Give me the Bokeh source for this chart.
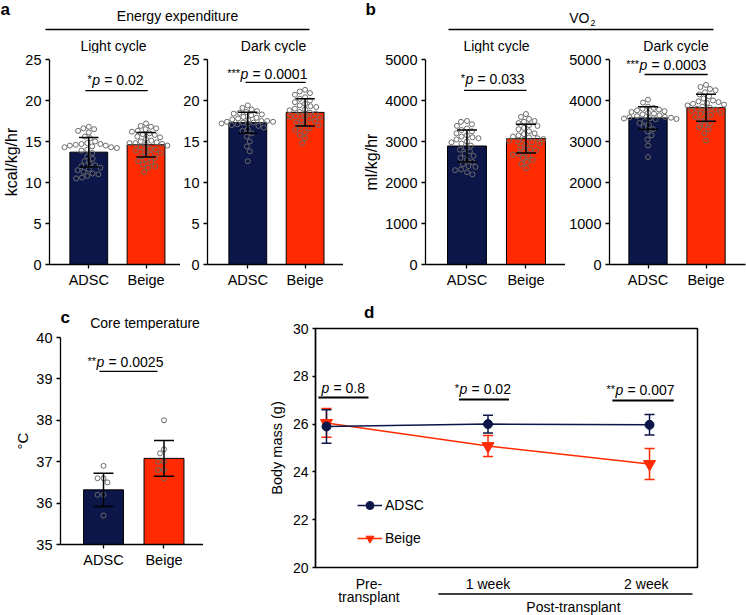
from bokeh.plotting import figure
from bokeh.layouts import row, column
from bokeh.models import Range1d, FixedTicker, Legend, LegendItem
from bokeh.core.properties import value
from bokeh.embed import file_html
from bokeh.resources import INLINE

FONT = "Liberation Sans"
NAVY = "#0c1648"
RED = "#ff2a00"
PT = "#6b6b6b"

groups = ["ADSC", "Beige"]

# ---- a: Energy expenditure (kcal/kg/hr) ----
ee_light_mean = [13.7, 14.6]
ee_light_sd = [1.8, 1.5]
ee_light_adsc = [16.8, 16.6, 16.5, 16.3, 16.1, 15.6, 15.4, 15.0, 14.8, 14.7, 14.7, 14.6, 14.5, 14.5,
                 14.4, 14.3, 14.3, 14.2, 14.0, 13.9, 13.6, 13.2, 12.9, 12.6, 12.3, 12.1, 12.0, 11.8,
                 11.6, 11.5, 11.3, 11.1, 11.0, 10.8, 10.6, 10.5]
ee_light_beige = [17.2, 16.9, 16.8, 16.6, 16.5, 16.3, 16.2, 16.0, 15.9, 15.8, 15.6, 15.5, 15.3, 15.1,
                  15.0, 14.9, 14.8, 14.8, 14.7, 14.6, 14.5, 14.3, 14.1, 14.0, 13.9, 13.7, 13.6, 13.4,
                  13.2, 13.0, 12.8, 12.6, 12.5, 12.2, 12.0, 11.8, 11.3]
ee_dark_mean = [17.3, 18.55]
ee_dark_sd = [1.28, 1.65]
ee_dark_adsc = [19.4, 19.1, 18.9, 18.7, 18.6, 18.5, 18.4, 18.3, 18.2, 18.0, 17.9, 17.8, 17.7, 17.6,
                17.5, 17.5, 17.4, 17.4, 17.3, 17.3, 17.2, 17.2, 17.1, 17.0, 16.9, 16.7, 16.5, 16.3,
                16.0, 15.6, 15.0, 14.4, 13.8, 12.6]
ee_dark_beige = [21.3, 21.1, 20.9, 20.7, 20.4, 20.2, 20.0, 19.8, 19.6, 19.4, 19.3, 19.2, 19.0, 18.9,
                 18.8, 18.6, 18.5, 18.4, 18.2, 18.1, 18.0, 17.9, 17.8, 17.6, 17.5, 17.3, 17.1, 17.0,
                 16.8, 16.6, 16.4, 16.1, 15.8, 15.4, 14.8]

# ---- b: VO2 (ml/kg/hr) ----
vo_light_mean = [2890, 3070]
vo_light_sd = [390, 350]
vo_light_adsc = [3500, 3480, 3420, 3380, 3320, 3280, 3250, 3200, 3150, 3120, 3100, 3080, 3050, 3000,
                 2980, 2950, 2900, 2850, 2800, 2760, 2700, 2650, 2600, 2550, 2500, 2450, 2400, 2380,
                 2320, 2300, 2250, 2200]
vo_light_beige = [3670, 3600, 3550, 3500, 3480, 3450, 3400, 3380, 3330, 3300, 3250, 3200, 3180, 3150,
                  3120, 3100, 3080, 3060, 3040, 3020, 3000, 2980, 2950, 2900, 2850, 2800, 2780, 2750,
                  2700, 2680, 2650, 2600, 2550, 2500, 2450, 2350]
vo_dark_mean = [3575, 3825]
vo_dark_sd = [275, 330]
vo_dark_adsc = [4020, 3950, 3850, 3820, 3800, 3780, 3760, 3740, 3720, 3700, 3680, 3660, 3640, 3620,
                3600, 3590, 3580, 3570, 3560, 3550, 3540, 3500, 3450, 3400, 3350, 3300, 3250, 3150,
                3050, 2900, 2620]
vo_dark_beige = [4380, 4330, 4280, 4250, 4200, 4150, 4100, 4050, 4000, 3980, 3960, 3940, 3920, 3900,
                 3880, 3850, 3820, 3800, 3780, 3750, 3720, 3700, 3680, 3650, 3600, 3550, 3500, 3450,
                 3400, 3350, 3300, 3200, 3020]

# ---- c: Core temperature (°C) ----
temp_mean = [36.32, 37.08]
temp_sd = [0.40, 0.43]
temp_adsc = [36.9, 36.6, 36.6, 36.5, 36.2, 36.2, 35.7]
temp_beige = [38.0, 37.3, 37.2, 37.0, 37.0, 36.8, 36.8, 36.6]

# ---- d: Body mass (g) ----
time_labels = ["Pre-\ntransplant", "1 week", "2 week"]
mass_adsc = [25.9, 26.0, 25.97]
mass_adsc_err = [0.70, 0.37, 0.43]
mass_beige = [26.05, 25.08, 24.33]
mass_beige_err = [0.60, 0.44, 0.65]


def txt(p, x, y, s, fs=14, align="center", style="normal", xo=0, yo=0):
    p.text(x=[x], y=[y], text=[s], text_font=value(FONT), text_font_size=f"{fs}px",
           text_font_style=style, text_align=align, text_baseline="alphabetic",
           text_color="black", x_offset=xo, y_offset=yo - 0.32 * fs)


def ptext(p, x, y, stars, rest, fs=14, sfs=11):
    txt(p, x, y, "p", fs, "left", "italic")
    txt(p, x, y, "= " + rest, fs, "left", xo=0.86 * fs)
    if stars:
        txt(p, x, y, stars, sfs, "right", xo=-0.5, yo=-2)


def swarm(vals, ypx, diam):
    placed = []
    offs = [0.0] * len(vals)
    order = sorted(range(len(vals)), key=lambda i: -vals[i])
    cands = sorted([k * 0.5 for k in range(-60, 61)], key=lambda c: (abs(c), c))
    for i in order:
        y = vals[i] * ypx
        chosen = 0.0
        for c in cands:
            if all((c - px) ** 2 + (y - py) ** 2 >= diam ** 2 for px, py in placed):
                chosen = c
                break
        placed.append((chosen, y))
        offs[i] = chosen
    return offs


def style_axes(p, tick_size="14.5px", tick_out=4, label_size="16px"):
    for ax in p.axis:
        ax.axis_line_color = "black"
        ax.axis_line_width = 1.3
        ax.major_tick_line_color = "black"
        ax.major_tick_line_width = 1.3
        ax.major_tick_in = 0
        ax.major_tick_out = tick_out
        ax.minor_tick_line_color = None
        ax.major_label_text_font = FONT
        ax.major_label_text_font_size = tick_size
        ax.major_label_text_color = "black"
        ax.axis_label_text_font = FONT
        ax.axis_label_text_font_size = label_size
        ax.axis_label_text_font_style = "normal"
        ax.axis_label_text_color = "black"
        ax.axis_label_standoff = 2
        ax.major_label_standoff = 4


def bar_panel(width, height, bl, br, bt, bb, fw, fh, xr, yr, yticks, ylabel,
              means, sds, pts_a, pts_b, pline, ptxt_args, label_size="16px"):
    p = figure(width=width, height=height, x_range=Range1d(*xr), y_range=Range1d(*yr),
               min_border_left=bl, min_border_right=br, min_border_top=bt, min_border_bottom=bb,
               output_backend="svg", toolbar_location=None, title=None)
    p.grid.visible = False
    p.outline_line_color = None
    base = yr[0]
    p.vbar(x=[0, 1], top=means, bottom=base, width=0.66, fill_color=[NAVY, RED],
           line_color="black", line_width=1)
    ypx = fh / (yr[1] - yr[0])
    xpx = fw / (xr[1] - xr[0])
    for i, pts in enumerate([pts_a, pts_b]):
        offs = swarm(pts, ypx, 5.6)
        p.scatter(x=[i + o / xpx for o in offs], y=pts, marker="circle", size=5,
                  fill_color=None, line_color=PT, line_width=1)
    lo = [m - s for m, s in zip(means, sds)]
    hi = [m + s for m, s in zip(means, sds)]
    p.segment(x0=[0, 1], y0=lo, x1=[0, 1], y1=hi, line_color="black", line_width=1.5)
    cw = 10 / xpx
    p.segment(x0=[-cw, 1 - cw, -cw, 1 - cw], y0=hi + lo, x1=[cw, 1 + cw, cw, 1 + cw], y1=hi + lo,
              line_color="black", line_width=1.5)
    p.segment(x0=[pline[0]], y0=[pline[2]], x1=[pline[1]], y1=[pline[2]],
              line_color="black", line_width=1.3)
    ptext(p, *ptxt_args)
    p.xaxis.ticker = FixedTicker(ticks=[0, 1])
    p.xaxis.major_label_overrides = {0: groups[0], 1: groups[1]}
    p.yaxis.ticker = FixedTicker(ticks=yticks)
    if ylabel:
        p.yaxis.axis_label = ylabel
    style_axes(p, label_size=label_size)
    p.xaxis.major_label_standoff = 3
    return p


def blank(width, height, xr, yr, bl=0, br=0):
    p = figure(width=width, height=height, x_range=xr, y_range=yr,
               x_axis_location=None, y_axis_location=None, min_border=0,
               min_border_left=bl, min_border_right=br,
               output_backend="svg", toolbar_location=None, title=None)
    p.grid.visible = False
    p.outline_line_color = None
    return p


# ---------- top header (0..53) ----------
HH = 53
hdr = blank(746, HH, Range1d(0, 746), Range1d(HH, 0))
txt(hdr, 0, 14, "a", 17, "left", "bold")
txt(hdr, 177, 20, "Energy expenditure")
hdr.segment(x0=[45], y0=[29], x1=[309], y1=[29], line_color="black", line_width=1.3)
txt(hdr, 113, 50, "Light cycle")
txt(hdr, 273, 50, "Dark cycle")
txt(hdr, 365, 14, "b", 17, "left", "bold")
txt(hdr, 589, 22, "VO", 14, "right")
txt(hdr, 590, 25, "2", 9, "left")
hdr.segment(x0=[448], y0=[29], x1=[713], y1=[29], line_color="black", line_width=1.3)
txt(hdr, 496, 50, "Light cycle")
txt(hdr, 675.5, 50, "Dark cycle")

# panels: 53..292, frame 59..264
H = 239
BT, FH, BB = 6, 205, 28
a1 = bar_panel(180, H, 45, 0, BT, BB, 135, FH, (-0.686, 1.602), (0, 25), [0, 5, 10, 15, 20, 25],
               "kcal/kg/hr", ee_light_mean, ee_light_sd, ee_light_adsc, ee_light_beige,
               (-0.06, 1.03, 21.2), (0.06, 21.9, "*", "0.02"))
a2 = bar_panel(163, H, 23, 0, BT, BB, 140, FH, (-0.703, 1.670), (0, 25), [0, 5, 10, 15, 20, 25],
               None, ee_dark_mean, ee_dark_sd, ee_dark_adsc, ee_dark_beige,
               (-0.04, 1.01, 22.2), (-0.127, 22.7, "***", "0.0001"))
b1 = bar_panel(222, H, 82, 0, BT, BB, 140, FH, (-0.703, 1.670), (0, 5000),
               [0, 1000, 2000, 3000, 4000, 5000], "ml/kg/hr",
               vo_light_mean, vo_light_sd, vo_light_adsc, vo_light_beige,
               (-0.05, 1.01, 4248), (-0.025, 4423, "*", "0.033"))
b2 = bar_panel(181, H, 44, 1, BT, BB, 136, FH, (-0.664, 1.681), (0, 5000),
               [0, 1000, 2000, 3000, 4000, 5000], None,
               vo_dark_mean, vo_dark_sd, vo_dark_adsc, vo_dark_beige,
               (-0.06, 1.03, 4634), (-0.147, 4765, "***", "0.0003"))

# ---------- panel c (292..615) ----------
hc = blank(203, 38, Range1d(0, 203), Range1d(38, 0))
txt(hc, 0, 30, "c", 17, "left", "bold")
txt(hc, 120, 35, "Core temperature")
pc = bar_panel(203, 285, 60, 0, 7, 71, 143, 207, (-0.711, 1.653), (35, 40),
               [35, 36, 37, 38, 39, 40], "°C", temp_mean, temp_sd, temp_adsc, temp_beige,
               (-0.066, 0.893, 39.18), (-0.116, 39.31, "**", "0.0025"), label_size="15px")

# ---------- panel d ----------
hd = blank(543, 30, Range1d(0, 543), Range1d(30, 0))
txt(hd, 69, 25.5, "d", 17, "left", "bold")

# main d: 322..575, frame 328..567
pd_ = figure(width=543, height=253, x_range=Range1d(-0.068, 2.297), y_range=Range1d(20, 30),
             min_border_left=112, min_border_right=49, min_border_top=6, min_border_bottom=8,
             x_axis_location=None, output_backend="svg", toolbar_location=None, title=None)
pd_.grid.visible = False
pd_.outline_line_color = "black"
pd_.outline_line_width = 1.5
tx = [0, 1, 2]
cw = 5 / 161.5
for means, errs, col in [(mass_beige, mass_beige_err, RED), (mass_adsc, mass_adsc_err, NAVY)]:
    lo = [m - e for m, e in zip(means, errs)]
    hi = [m + e for m, e in zip(means, errs)]
    pd_.segment(x0=tx, y0=lo, x1=tx, y1=hi, line_color=col, line_width=1.5)
    pd_.segment(x0=[x - cw for x in tx] * 2, y0=lo + hi, x1=[x + cw for x in tx] * 2, y1=lo + hi,
                line_color=col, line_width=1.5)
lb = pd_.line(tx, mass_beige, line_color=RED, line_width=1.5)
sb = pd_.scatter(tx, mass_beige, marker="inverted_triangle", size=12, fill_color=RED, line_color=RED)
la = pd_.line(tx, mass_adsc, line_color=NAVY, line_width=1.5)
sa = pd_.scatter(tx, mass_adsc, marker="circle", size=9, fill_color=NAVY, line_color=NAVY)

for (x0, x1, y) in [(-0.05, 0.26, 27.11), (0.82, 1.13, 27.03), (1.77, 2.15, 26.99)]:
    pd_.segment(x0=[x0], y0=[y], x1=[x1], y1=[y], line_color="black", line_width=2)
ptext(pd_, -0.031, 27.33, "", "0.8")
ptext(pd_, 0.824, 27.27, "*", "0.02")
ptext(pd_, 1.789, 27.23, "**", "0.007")

pd_.yaxis.ticker = FixedTicker(ticks=[20, 22, 24, 26, 28, 30])
pd_.yaxis.axis_label = "Body mass (g)"
style_axes(pd_, tick_size="14px", tick_out=3, label_size="14.5px")
pd_.yaxis.axis_label_standoff = 5

leg = Legend(items=[LegendItem(label=groups[0], renderers=[la, sa]),
                    LegendItem(label=groups[1], renderers=[lb, sb])],
             location=(42, 19), orientation="vertical", glyph_width=25, glyph_height=20,
             spacing=13, label_standoff=3, padding=0, margin=0, border_line_color=None,
             background_fill_alpha=0, label_text_font=FONT, label_text_font_size="14px",
             label_text_color="black")
pd_.add_layout(leg)

# footer d: 575..615
fd = blank(543, 40, pd_.x_range, Range1d(40, 0), bl=112, br=49)
pre_lines = time_labels[0].split("\n")
txt(fd, 0.263, 12.5, pre_lines[0])
txt(fd, 0.263, 26, pre_lines[1])
txt(fd, 1, 12.5, time_labels[1])
txt(fd, 1.98, 12.5, time_labels[2])
fd.segment(x0=[0.693], y0=[18.5], x1=[2.266], y1=[18.5], line_color="black", line_width=1.5)
txt(fd, 1.529, 35.5, "Post-transplant")

layout = column(hdr, row(a1, a2, b1, b2),
                row(column(hc, pc), column(hd, pd_, fd)))

open("out.html", "w").write(file_html(layout, INLINE))
